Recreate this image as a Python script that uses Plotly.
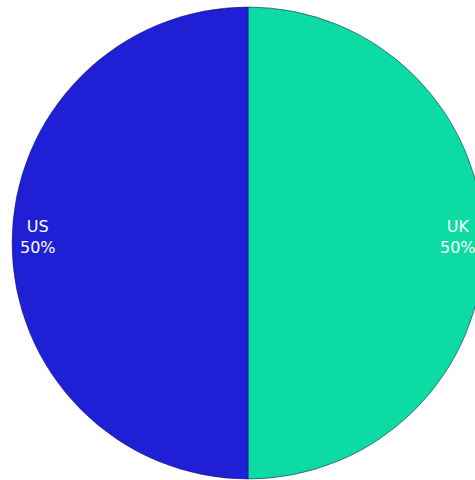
import math
import plotly.graph_objects as go

# Share of respondents by country
countries = ["UK", "US"]
shares = [50, 50]
slice_colors = ["#0CDBA3", "#1F1FD6"]

W, H = 485, 480
cx, cy, r = 248, 243, 236          # pie centre and radius, in pixels

fig = go.Figure(
    go.Pie(
        labels=countries,
        values=shares,
        sort=False,
        direction="clockwise",
        rotation=0,
        marker=dict(colors=slice_colors, line=dict(color="rgba(20,20,110,0.55)", width=1)),
        textinfo="none",
        hoverinfo="label+percent",
        showlegend=False,
        domain=dict(x=[(cx - r) / W, (cx + r) / W], y=[1 - (cy + r) / H, 1 - (cy - r) / H]),
    )
)

# Labels sit near the rim of each slice, at its mid angle
total = sum(shares)
start = 90.0
for name, v in zip(countries, shares):
    sweep = 360.0 * v / total
    mid = math.radians(start - sweep / 2)
    start -= sweep
    px = cx + 0.89 * r * math.cos(mid)
    py = cy - 0.89 * r * math.sin(mid) - 6
    fig.add_annotation(
        x=px / W, y=1 - py / H, xref="paper", yref="paper",
        xanchor="center", yanchor="middle",
        text=f"{name}<br>{round(100 * v / total)}%",
        showarrow=False,
        font=dict(family="DejaVu Sans", size=16, color="white"),
        align="center",
    )

fig.update_layout(
    width=W, height=H,
    margin=dict(l=0, r=0, t=0, b=0),
    paper_bgcolor="white",
    plot_bgcolor="white",
)

fig.write_html("out.html")
